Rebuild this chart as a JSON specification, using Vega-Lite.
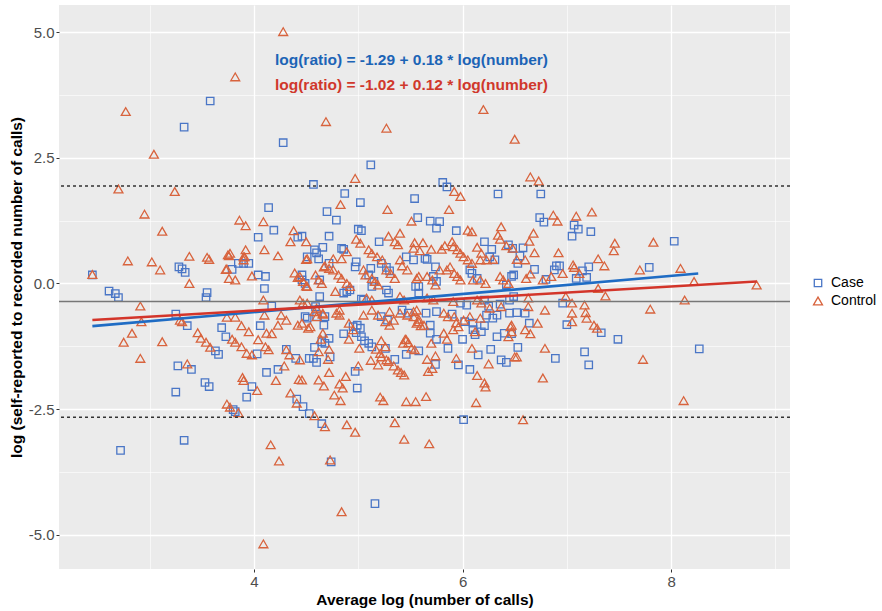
{
  "$schema": "https://vega.github.io/schema/vega-lite/v6.json",
  "width": 731,
  "height": 564,
  "autosize": {"type": "none"},
  "padding": {"left": 59, "top": 5, "right": 92, "bottom": 42},
  "background": "#ffffff",
  "config": {
    "font": "Liberation Sans",
    "view": {"fill": "#ebebeb", "stroke": null},
    "axis": {
      "domain": false,
      "gridColor": "#ffffff",
      "tickColor": "#333333",
      "tickSize": 3,
      "labelColor": "#4d4d4d",
      "labelFontSize": 15,
      "labelFont": "Liberation Sans",
      "titleFont": "Liberation Sans",
      "titleFontSize": 15.5,
      "titleFontWeight": "bold",
      "titleColor": "#000000",
      "labelFlush": false,
      "labelOverlap": false
    },
    "legend": {
      "orient": "none",
      "legendX": 752,
      "legendY": 271,
      "labelFontSize": 14,
      "labelColor": "#000000",
      "labelFont": "Liberation Sans",
      "symbolStrokeWidth": 1.3,
      "symbolSize": 60,
      "rowPadding": 4,
      "labelOffset": 6
    }
  },
  "layer": [
    {
      "data": {
        "values": [
          {"a":3.58,"d":3.63,"g":"Case"},{"a":3.33,"d":3.11,"g":"Case"},{"a":4.28,"d":2.80,"g":"Case"},{"a":4.14,"d":1.51,"g":"Case"},{"a":4.19,"d":1.06,"g":"Case"},{"a":4.04,"d":0.92,"g":"Case"},{"a":4.42,"d":0.92,"g":"Case"},{"a":3.28,"d":0.33,"g":"Case"},{"a":3.34,"d":0.22,"g":"Case"},{"a":3.31,"d":0.29,"g":"Case"},{"a":3.79,"d":0.28,"g":"Case"},{"a":3.85,"d":0.40,"g":"Case"},{"a":3.95,"d":0.40,"g":"Case"},{"a":3.90,"d":0.40,"g":"Case"},{"a":4.04,"d":0.17,"g":"Case"},{"a":4.11,"d":0.14,"g":"Case"},{"a":4.10,"d":-0.10,"g":"Case"},{"a":2.45,"d":0.17,"g":"Case"},{"a":2.61,"d":-0.15,"g":"Case"},{"a":2.67,"d":-0.20,"g":"Case"},{"a":2.70,"d":-0.28,"g":"Case"},{"a":3.55,"d":-0.18,"g":"Case"},{"a":3.54,"d":-0.28,"g":"Case"},
          {"a":5.12,"d":2.36,"g":"Case"},{"a":4.57,"d":1.97,"g":"Case"},{"a":4.87,"d":1.79,"g":"Case"},{"a":5.81,"d":2.01,"g":"Case"},{"a":5.85,"d":1.92,"g":"Case"},{"a":6.34,"d":1.78,"g":"Case"},{"a":6.75,"d":1.78,"g":"Case"},{"a":5.54,"d":1.69,"g":"Case"},
          {"a":6.74,"d":1.31,"g":"Case"},{"a":6.78,"d":1.22,"g":"Case"},{"a":7.07,"d":1.16,"g":"Case"},{"a":7.11,"d":1.08,"g":"Case"},{"a":7.05,"d":0.94,"g":"Case"},{"a":7.23,"d":1.03,"g":"Case"},{"a":8.03,"d":0.84,"g":"Case"},{"a":6.58,"d":0.71,"g":"Case"},{"a":6.55,"d":0.55,"g":"Case"},{"a":6.53,"d":0.40,"g":"Case"},{"a":7.21,"d":0.33,"g":"Case"},{"a":6.90,"d":0.35,"g":"Case"},{"a":6.93,"d":0.35,"g":"Case"},{"a":6.88,"d":0.27,"g":"Case"},{"a":7.15,"d":0.25,"g":"Case"},{"a":7.09,"d":0.10,"g":"Case"},{"a":7.19,"d":0.12,"g":"Case"},{"a":6.80,"d":0.08,"g":"Case"},{"a":6.69,"d":0.28,"g":"Case"},{"a":7.79,"d":0.32,"g":"Case"},{"a":6.96,"d":-0.39,"g":"Case"},{"a":6.52,"d":-0.58,"g":"Case"},{"a":6.60,"d":-0.59,"g":"Case"},{"a":6.49,"d":-0.26,"g":"Case"},
          {"a":8.27,"d":-1.30,"g":"Case"},
          {"a":7.00,"d":-0.82,"g":"Case"},{"a":7.33,"d":-0.98,"g":"Case"},{"a":7.49,"d":-1.11,"g":"Case"},{"a":7.17,"d":-1.36,"g":"Case"},{"a":7.21,"d":-1.62,"g":"Case"},{"a":6.89,"d":-1.49,"g":"Case"},{"a":6.53,"d":-1.27,"g":"Case"},{"a":6.64,"d":-0.79,"g":"Case"},
          {"a":3.25,"d":-0.61,"g":"Case"},{"a":3.36,"d":-0.84,"g":"Case"},{"a":3.63,"d":-1.34,"g":"Case"},{"a":3.66,"d":-1.41,"g":"Case"},{"a":3.27,"d":-1.64,"g":"Case"},{"a":3.40,"d":-1.71,"g":"Case"},{"a":3.53,"d":-1.97,"g":"Case"},{"a":3.57,"d":-2.05,"g":"Case"},{"a":3.25,"d":-2.16,"g":"Case"},{"a":3.69,"d":-0.88,"g":"Case"},{"a":3.73,"d":-1.06,"g":"Case"},{"a":4.06,"d":-0.84,"g":"Case"},{"a":4.03,"d":-1.40,"g":"Case"},{"a":4.31,"d":-1.31,"g":"Case"},{"a":4.40,"d":-1.49,"g":"Case"},{"a":4.51,"d":-0.69,"g":"Case"},{"a":4.53,"d":-1.49,"g":"Case"},{"a":4.23,"d":-1.71,"g":"Case"},{"a":4.12,"d":-1.77,"g":"Case"},{"a":3.98,"d":-2.05,"g":"Case"},{"a":3.93,"d":-2.26,"g":"Case"},{"a":4.41,"d":-2.30,"g":"Case"},{"a":4.47,"d":-2.45,"g":"Case"},{"a":4.53,"d":-2.59,"g":"Case"},{"a":3.80,"d":-2.51,"g":"Case"},{"a":3.82,"d":-2.55,"g":"Case"},{"a":2.72,"d":-3.32,"g":"Case"},{"a":3.33,"d":-3.12,"g":"Case"},{"a":4.17,"d":-0.45,"g":"Case"},
          {"a":4.74,"d":-3.55,"g":"Case"},{"a":4.65,"d":-2.79,"g":"Case"},{"a":6.01,"d":-2.71,"g":"Case"},{"a":5.16,"d":-4.38,"g":"Case"},
          {"a":4.99,"d":-2.08,"g":"Case"},{"a":4.97,"d":-1.75,"g":"Case"},{"a":5.35,"d":-1.51,"g":"Case"},{"a":5.26,"d":-1.29,"g":"Case"},{"a":5.10,"d":-1.19,"g":"Case"},{"a":5.13,"d":-1.26,"g":"Case"},{"a":5.06,"d":-1.14,"g":"Case"},{"a":5.03,"d":-1.06,"g":"Case"},{"a":4.98,"d":-0.98,"g":"Case"},{"a":4.95,"d":-0.86,"g":"Case"},{"a":4.99,"d":-0.83,"g":"Case"},{"a":5.02,"d":-0.89,"g":"Case"},{"a":4.86,"d":-1.00,"g":"Case"},{"a":4.72,"d":-1.09,"g":"Case"},{"a":4.68,"d":-1.19,"g":"Case"},{"a":4.65,"d":-1.16,"g":"Case"},{"a":4.58,"d":-1.27,"g":"Case"},{"a":4.57,"d":-1.49,"g":"Case"},{"a":4.60,"d":-1.57,"g":"Case"},{"a":4.73,"d":-1.46,"g":"Case"},{"a":4.60,"d":-0.66,"g":"Case"},{"a":4.67,"d":-0.83,"g":"Case"},{"a":5.46,"d":-1.41,"g":"Case"},{"a":5.58,"d":-1.34,"g":"Case"},{"a":5.74,"d":-1.61,"g":"Case"},{"a":5.69,"d":-0.99,"g":"Case"},{"a":5.75,"d":-1.11,"g":"Case"},{"a":5.69,"d":-0.83,"g":"Case"},{"a":5.86,"d":-1.29,"g":"Case"},{"a":6.00,"d":-1.11,"g":"Case"},{"a":5.96,"d":-1.62,"g":"Case"},{"a":6.07,"d":-1.71,"g":"Case"},{"a":6.15,"d":-1.42,"g":"Case"},{"a":6.27,"d":-1.31,"g":"Case"},{"a":6.37,"d":-1.52,"g":"Case"},{"a":6.42,"d":-1.57,"g":"Case"},{"a":6.33,"d":-1.06,"g":"Case"},{"a":6.40,"d":-0.99,"g":"Case"},{"a":6.47,"d":-1.00,"g":"Case"},{"a":6.21,"d":-0.84,"g":"Case"},{"a":6.29,"d":-0.69,"g":"Case"},{"a":6.23,"d":-0.63,"g":"Case"},{"a":6.10,"d":-0.79,"g":"Case"},{"a":6.12,"d":-1.02,"g":"Case"},{"a":5.90,"d":-0.61,"g":"Case"},{"a":6.02,"d":-0.76,"g":"Case"},{"a":5.42,"d":-0.53,"g":"Case"},{"a":5.48,"d":-0.59,"g":"Case"},{"a":5.65,"d":-0.59,"g":"Case"},{"a":5.75,"d":-0.56,"g":"Case"},{"a":5.22,"d":-0.66,"g":"Case"},{"a":5.28,"d":-0.73,"g":"Case"},{"a":6.10,"d":-0.92,"g":"Case"},{"a":6.18,"d":-0.96,"g":"Case"},
          {"a":4.46,"d":0.07,"g":"Case"},{"a":4.49,"d":0.00,"g":"Case"},
          {"a":5.02,"d":1.61,"g":"Case"},{"a":4.70,"d":1.43,"g":"Case"},{"a":4.79,"d":1.26,"g":"Case"},{"a":5.57,"d":1.31,"g":"Case"},{"a":5.69,"d":1.24,"g":"Case"},{"a":5.75,"d":1.10,"g":"Case"},{"a":5.78,"d":1.23,"g":"Case"},{"a":5.94,"d":1.05,"g":"Case"},{"a":5.00,"d":1.08,"g":"Case"},{"a":5.03,"d":1.05,"g":"Case"},{"a":4.46,"d":0.94,"g":"Case"},{"a":4.72,"d":0.94,"g":"Case"},{"a":5.20,"d":0.83,"g":"Case"},{"a":4.58,"d":0.67,"g":"Case"},{"a":4.66,"d":0.72,"g":"Case"},{"a":4.60,"d":0.61,"g":"Case"},{"a":4.84,"d":0.70,"g":"Case"},{"a":4.86,"d":0.68,"g":"Case"},{"a":6.21,"d":0.83,"g":"Case"},{"a":6.28,"d":0.68,"g":"Case"},{"a":6.44,"d":0.77,"g":"Case"},{"a":6.48,"d":0.70,"g":"Case"},{"a":6.31,"d":0.47,"g":"Case"},{"a":6.26,"d":0.53,"g":"Case"},{"a":4.51,"d":0.53,"g":"Case"},{"a":4.62,"d":0.49,"g":"Case"},{"a":4.72,"d":0.40,"g":"Case"},{"a":4.98,"d":0.43,"g":"Case"},{"a":4.97,"d":0.33,"g":"Case"},{"a":5.12,"d":0.30,"g":"Case"},{"a":5.10,"d":0.17,"g":"Case"},{"a":5.15,"d":0.04,"g":"Case"},{"a":5.22,"d":0.40,"g":"Case"},{"a":5.27,"d":0.32,"g":"Case"},{"a":5.30,"d":0.25,"g":"Case"},{"a":5.46,"d":0.53,"g":"Case"},{"a":5.53,"d":0.47,"g":"Case"},{"a":5.64,"d":0.50,"g":"Case"},{"a":5.66,"d":0.48,"g":"Case"},{"a":5.74,"d":0.33,"g":"Case"},{"a":5.58,"d":-0.06,"g":"Case"},{"a":5.55,"d":-0.06,"g":"Case"},{"a":5.72,"d":0.14,"g":"Case"},{"a":5.75,"d":0.04,"g":"Case"},{"a":6.07,"d":0.27,"g":"Case"},{"a":6.09,"d":0.20,"g":"Case"},{"a":6.14,"d":0.10,"g":"Case"},{"a":6.47,"d":0.14,"g":"Case"},{"a":6.49,"d":0.17,"g":"Case"},{"a":6.42,"d":-0.03,"g":"Case"},{"a":4.63,"d":0.07,"g":"Case"},{"a":4.63,"d":-0.26,"g":"Case"},{"a":4.89,"d":-0.16,"g":"Case"},{"a":5.13,"d":-0.06,"g":"Case"},{"a":5.27,"d":-0.13,"g":"Case"},{"a":5.29,"d":-0.19,"g":"Case"},{"a":5.58,"d":-0.19,"g":"Case"},{"a":5.03,"d":-0.31,"g":"Case"},{"a":5.05,"d":-0.33,"g":"Case"},{"a":5.98,"d":-0.39,"g":"Case"},{"a":6.04,"d":-0.43,"g":"Case"},{"a":6.21,"d":-0.33,"g":"Case"},{"a":6.25,"d":-0.45,"g":"Case"},{"a":6.36,"d":-0.41,"g":"Case"},{"a":6.45,"d":-0.33,"g":"Case"},{"a":4.49,"d":-0.66,"g":"Case"},{"a":4.59,"d":-0.46,"g":"Case"},{"a":4.68,"d":-0.66,"g":"Case"},{"a":6.33,"d":-0.63,"g":"Case"},{"a":6.45,"d":-0.59,"g":"Case"},{"a":4.86,"d":-0.19,"g":"Case"},{"a":4.92,"d":-0.13,"g":"Case"},{"a":4.46,"d":0.17,"g":"Case"},

          {"a":4.28,"d":5.01,"g":"Control"},{"a":3.82,"d":4.11,"g":"Control"},{"a":2.77,"d":3.42,"g":"Control"},{"a":3.04,"d":2.57,"g":"Control"},{"a":2.70,"d":1.88,"g":"Control"},{"a":3.24,"d":1.83,"g":"Control"},{"a":2.95,"d":1.38,"g":"Control"},{"a":3.86,"d":1.26,"g":"Control"},{"a":4.09,"d":1.23,"g":"Control"},{"a":3.92,"d":1.15,"g":"Control"},{"a":3.12,"d":1.04,"g":"Control"},{"a":4.38,"d":1.05,"g":"Control"},{"a":4.35,"d":0.83,"g":"Control"},{"a":3.92,"d":0.67,"g":"Control"},{"a":4.10,"d":0.67,"g":"Control"},{"a":2.79,"d":0.45,"g":"Control"},{"a":3.02,"d":0.43,"g":"Control"},{"a":3.38,"d":0.54,"g":"Control"},{"a":3.55,"d":0.52,"g":"Control"},{"a":3.57,"d":0.48,"g":"Control"},{"a":3.76,"d":0.55,"g":"Control"},{"a":3.91,"d":0.53,"g":"Control"},{"a":4.23,"d":0.55,"g":"Control"},{"a":3.10,"d":0.27,"g":"Control"},{"a":3.74,"d":0.29,"g":"Control"},{"a":3.76,"d":0.10,"g":"Control"},{"a":3.82,"d":0.07,"g":"Control"},{"a":3.98,"d":0.15,"g":"Control"},{"a":3.38,"d":0.00,"g":"Control"},{"a":2.45,"d":0.18,"g":"Control"},{"a":4.39,"d":0.21,"g":"Control"},
          {"a":4.69,"d":3.22,"g":"Control"},{"a":5.27,"d":3.09,"g":"Control"},{"a":6.20,"d":3.46,"g":"Control"},{"a":6.50,"d":2.87,"g":"Control"},{"a":4.97,"d":2.09,"g":"Control"},{"a":5.92,"d":1.83,"g":"Control"},{"a":5.98,"d":1.73,"g":"Control"},{"a":6.65,"d":2.12,"g":"Control"},{"a":6.73,"d":2.04,"g":"Control"},
          {"a":6.87,"d":1.36,"g":"Control"},{"a":6.91,"d":1.24,"g":"Control"},{"a":7.09,"d":1.34,"g":"Control"},{"a":7.24,"d":1.42,"g":"Control"},{"a":7.46,"d":0.80,"g":"Control"},{"a":7.45,"d":0.65,"g":"Control"},{"a":7.83,"d":0.82,"g":"Control"},{"a":6.68,"d":1.00,"g":"Control"},{"a":6.64,"d":0.84,"g":"Control"},{"a":6.48,"d":0.70,"g":"Control"},{"a":6.69,"d":0.61,"g":"Control"},{"a":6.92,"d":0.61,"g":"Control"},{"a":6.52,"d":0.48,"g":"Control"},{"a":6.60,"d":0.47,"g":"Control"},{"a":7.30,"d":0.49,"g":"Control"},{"a":7.36,"d":0.35,"g":"Control"},{"a":7.06,"d":0.37,"g":"Control"},{"a":7.07,"d":0.32,"g":"Control"},{"a":6.96,"d":0.20,"g":"Control"},{"a":7.12,"d":0.20,"g":"Control"},{"a":6.85,"d":0.14,"g":"Control"},{"a":6.65,"d":0.19,"g":"Control"},{"a":6.61,"d":0.10,"g":"Control"},{"a":6.77,"d":0.07,"g":"Control"},{"a":7.70,"d":0.27,"g":"Control"},{"a":8.09,"d":0.30,"g":"Control"},{"a":8.22,"d":0.04,"g":"Control"},{"a":7.30,"d":-0.10,"g":"Control"},{"a":7.37,"d":-0.25,"g":"Control"},{"a":7.05,"d":-0.39,"g":"Control"},{"a":7.17,"d":-0.43,"g":"Control"},{"a":7.80,"d":-0.51,"g":"Control"},{"a":8.13,"d":-0.33,"g":"Control"},{"a":6.99,"d":-0.26,"g":"Control"},{"a":7.05,"d":-0.59,"g":"Control"},{"a":7.18,"d":-0.58,"g":"Control"},{"a":6.63,"d":-0.46,"g":"Control"},{"a":6.63,"d":-0.29,"g":"Control"},
          {"a":8.82,"d":-0.03,"g":"Control"},
          {"a":6.79,"d":-0.53,"g":"Control"},{"a":7.05,"d":-0.76,"g":"Control"},{"a":7.19,"d":-0.69,"g":"Control"},{"a":7.26,"d":-0.83,"g":"Control"},{"a":7.29,"d":-0.89,"g":"Control"},{"a":7.73,"d":-1.51,"g":"Control"},{"a":6.79,"d":-1.29,"g":"Control"},{"a":6.77,"d":-1.88,"g":"Control"},{"a":8.12,"d":-2.33,"g":"Control"},{"a":6.58,"d":-2.71,"g":"Control"},{"a":6.52,"d":-1.46,"g":"Control"},{"a":6.72,"d":-0.79,"g":"Control"},{"a":6.60,"d":-0.92,"g":"Control"},{"a":6.65,"d":-1.00,"g":"Control"},{"a":6.47,"d":-0.96,"g":"Control"},{"a":6.47,"d":-0.83,"g":"Control"},
          {"a":2.83,"d":-0.99,"g":"Control"},{"a":2.75,"d":-1.17,"g":"Control"},{"a":3.12,"d":-1.16,"g":"Control"},{"a":2.91,"d":-1.49,"g":"Control"},{"a":3.31,"d":-0.76,"g":"Control"},{"a":2.92,"d":-0.76,"g":"Control"},{"a":3.46,"d":-0.98,"g":"Control"},{"a":3.49,"d":-1.09,"g":"Control"},{"a":3.54,"d":-1.17,"g":"Control"},{"a":3.58,"d":-1.27,"g":"Control"},{"a":3.36,"d":-1.60,"g":"Control"},{"a":3.74,"d":-0.67,"g":"Control"},{"a":3.82,"d":-0.67,"g":"Control"},{"a":3.88,"d":-0.84,"g":"Control"},{"a":3.79,"d":-1.11,"g":"Control"},{"a":3.82,"d":-1.17,"g":"Control"},{"a":3.88,"d":-1.26,"g":"Control"},{"a":3.95,"d":-0.96,"g":"Control"},{"a":4.04,"d":-1.12,"g":"Control"},{"a":4.10,"d":-0.63,"g":"Control"},{"a":3.93,"d":-1.39,"g":"Control"},{"a":3.98,"d":-1.42,"g":"Control"},{"a":4.11,"d":-1.26,"g":"Control"},{"a":4.14,"d":-1.32,"g":"Control"},{"a":4.12,"d":-0.99,"g":"Control"},{"a":4.17,"d":-1.00,"g":"Control"},{"a":4.23,"d":-0.83,"g":"Control"},{"a":4.26,"d":-0.63,"g":"Control"},{"a":4.31,"d":-0.73,"g":"Control"},{"a":4.31,"d":-1.32,"g":"Control"},{"a":4.34,"d":-1.42,"g":"Control"},{"a":4.46,"d":-0.79,"g":"Control"},{"a":4.52,"d":-0.89,"g":"Control"},{"a":4.29,"d":-1.64,"g":"Control"},{"a":4.21,"d":-1.93,"g":"Control"},{"a":4.43,"d":-1.91,"g":"Control"},{"a":3.89,"d":-1.87,"g":"Control"},{"a":3.90,"d":-1.93,"g":"Control"},{"a":4.03,"d":-2.13,"g":"Control"},{"a":4.35,"d":-2.18,"g":"Control"},{"a":4.41,"d":-2.38,"g":"Control"},{"a":3.74,"d":-2.40,"g":"Control"},{"a":3.77,"d":-2.46,"g":"Control"},{"a":3.85,"d":-2.57,"g":"Control"},{"a":4.16,"d":-3.21,"g":"Control"},{"a":4.24,"d":-3.53,"g":"Control"},
          {"a":2.91,"d":-0.45,"g":"Control"},{"a":3.29,"d":-0.73,"g":"Control"},{"a":4.42,"d":-0.83,"g":"Control"},{"a":4.09,"d":-0.33,"g":"Control"},{"a":4.09,"d":-5.18,"g":"Control"},
          {"a":4.68,"d":-2.85,"g":"Control"},{"a":4.89,"d":-2.81,"g":"Control"},{"a":4.97,"d":-2.96,"g":"Control"},{"a":5.35,"d":-2.77,"g":"Control"},{"a":5.44,"d":-3.10,"g":"Control"},{"a":5.68,"d":-3.19,"g":"Control"},{"a":4.73,"d":-3.51,"g":"Control"},{"a":4.84,"d":-4.54,"g":"Control"},
          {"a":4.58,"d":-2.63,"g":"Control"},{"a":5.21,"d":-2.26,"g":"Control"},{"a":5.24,"d":-2.33,"g":"Control"},{"a":5.46,"d":-2.35,"g":"Control"},{"a":5.55,"d":-2.35,"g":"Control"},{"a":5.65,"d":-2.25,"g":"Control"},{"a":6.13,"d":-2.37,"g":"Control"},{"a":4.77,"d":-2.22,"g":"Control"},{"a":4.83,"d":-2.33,"g":"Control"},{"a":4.88,"d":-1.85,"g":"Control"},{"a":4.82,"d":-2.00,"g":"Control"},{"a":4.85,"d":-2.08,"g":"Control"},{"a":4.62,"d":-1.92,"g":"Control"},{"a":4.67,"d":-2.04,"g":"Control"},{"a":4.72,"d":-1.77,"g":"Control"},{"a":4.46,"d":-1.92,"g":"Control"},{"a":5.00,"d":-1.64,"g":"Control"},{"a":5.12,"d":-1.53,"g":"Control"},{"a":5.19,"d":-1.62,"g":"Control"},{"a":5.34,"d":-1.64,"g":"Control"},{"a":5.38,"d":-1.72,"g":"Control"},{"a":5.41,"d":-1.77,"g":"Control"},{"a":5.44,"d":-1.82,"g":"Control"},{"a":5.22,"d":-1.46,"g":"Control"},{"a":5.27,"d":-1.52,"g":"Control"},{"a":5.29,"d":-1.55,"g":"Control"},{"a":5.22,"d":-1.14,"g":"Control"},{"a":5.26,"d":-1.26,"g":"Control"},{"a":5.17,"d":-1.31,"g":"Control"},{"a":5.21,"d":-1.39,"g":"Control"},{"a":4.91,"d":-0.79,"g":"Control"},{"a":4.95,"d":-0.92,"g":"Control"},{"a":4.91,"d":-1.11,"g":"Control"},{"a":5.01,"d":-1.29,"g":"Control"},{"a":4.72,"d":-1.31,"g":"Control"},{"a":4.66,"d":-0.99,"g":"Control"},{"a":4.64,"d":-1.11,"g":"Control"},{"a":4.71,"d":-1.51,"g":"Control"},{"a":4.62,"d":-1.36,"g":"Control"},{"a":4.54,"d":-0.86,"g":"Control"},{"a":4.44,"d":-1.52,"g":"Control"},{"a":5.43,"d":-1.19,"g":"Control"},{"a":5.46,"d":-1.12,"g":"Control"},{"a":5.51,"d":-1.29,"g":"Control"},{"a":5.54,"d":-1.32,"g":"Control"},{"a":5.66,"d":-1.51,"g":"Control"},{"a":5.74,"d":-1.44,"g":"Control"},{"a":5.67,"d":-1.75,"g":"Control"},{"a":5.71,"d":-1.69,"g":"Control"},{"a":5.70,"d":-1.19,"g":"Control"},{"a":5.58,"d":-0.71,"g":"Control"},{"a":5.63,"d":-0.83,"g":"Control"},{"a":5.82,"d":-0.99,"g":"Control"},{"a":5.85,"d":-1.11,"g":"Control"},{"a":5.91,"d":-0.92,"g":"Control"},{"a":5.94,"d":-0.78,"g":"Control"},{"a":5.94,"d":-1.49,"g":"Control"},{"a":6.14,"d":-1.83,"g":"Control"},{"a":6.21,"d":-1.98,"g":"Control"},{"a":6.22,"d":-2.06,"g":"Control"},{"a":6.09,"d":-1.29,"g":"Control"},{"a":6.25,"d":-1.60,"g":"Control"},{"a":6.50,"d":-1.46,"g":"Control"},{"a":6.44,"d":-1.06,"g":"Control"},{"a":6.46,"d":-0.86,"g":"Control"},{"a":6.12,"d":-0.96,"g":"Control"},{"a":5.92,"d":-0.66,"g":"Control"},{"a":5.96,"d":-0.86,"g":"Control"},{"a":6.01,"d":-0.73,"g":"Control"},{"a":6.07,"d":-0.66,"g":"Control"},{"a":6.17,"d":-0.69,"g":"Control"},{"a":5.56,"d":-0.79,"g":"Control"},{"a":5.60,"d":-0.84,"g":"Control"},{"a":5.45,"d":-1.11,"g":"Control"},{"a":5.48,"d":-1.18,"g":"Control"},{"a":5.53,"d":-0.56,"g":"Control"},{"a":5.58,"d":-0.76,"g":"Control"},{"a":5.30,"d":-0.56,"g":"Control"},{"a":5.34,"d":-0.73,"g":"Control"},{"a":5.19,"d":-0.63,"g":"Control"},{"a":5.26,"d":-0.76,"g":"Control"},{"a":5.30,"d":-0.83,"g":"Control"},{"a":5.13,"d":-0.53,"g":"Control"},{"a":5.05,"d":-0.63,"g":"Control"},{"a":4.79,"d":-0.59,"g":"Control"},{"a":4.82,"d":-0.63,"g":"Control"},{"a":4.60,"d":-0.66,"g":"Control"},{"a":4.66,"d":-0.59,"g":"Control"},{"a":4.58,"d":-0.56,"g":"Control"},
          {"a":4.50,"d":0.83,"g":"Control"},{"a":3.75,"d":0.57,"g":"Control"},{"a":3.77,"d":0.60,"g":"Control"},{"a":3.90,"d":0.53,"g":"Control"},{"a":4.50,"d":0.48,"g":"Control"},{"a":3.73,"d":0.28,"g":"Control"},{"a":3.90,"d":0.47,"g":"Control"},{"a":4.42,"d":0.12,"g":"Control"},{"a":4.50,"d":-0.05,"g":"Control"},{"a":4.47,"d":-0.39,"g":"Control"},
          {"a":4.83,"d":1.57,"g":"Control"},{"a":5.28,"d":1.47,"g":"Control"},{"a":5.87,"d":1.47,"g":"Control"},{"a":5.51,"d":1.24,"g":"Control"},{"a":6.05,"d":1.06,"g":"Control"},{"a":6.09,"d":1.03,"g":"Control"},{"a":6.37,"d":1.13,"g":"Control"},{"a":6.34,"d":0.96,"g":"Control"},{"a":6.36,"d":0.88,"g":"Control"},{"a":4.98,"d":0.88,"g":"Control"},{"a":5.02,"d":0.80,"g":"Control"},{"a":5.29,"d":0.94,"g":"Control"},{"a":5.40,"d":1.00,"g":"Control"},{"a":5.35,"d":0.83,"g":"Control"},{"a":5.38,"d":0.77,"g":"Control"},{"a":4.89,"d":0.63,"g":"Control"},{"a":5.10,"d":0.67,"g":"Control"},{"a":5.13,"d":0.60,"g":"Control"},{"a":5.18,"d":0.53,"g":"Control"},{"a":5.23,"d":0.47,"g":"Control"},{"a":5.54,"d":0.81,"g":"Control"},{"a":5.62,"d":0.81,"g":"Control"},{"a":5.70,"d":0.68,"g":"Control"},{"a":5.53,"d":0.70,"g":"Control"},{"a":5.59,"d":0.65,"g":"Control"},{"a":5.80,"d":0.68,"g":"Control"},{"a":5.83,"d":0.75,"g":"Control"},{"a":5.90,"d":0.83,"g":"Control"},{"a":5.91,"d":0.73,"g":"Control"},{"a":5.95,"d":0.67,"g":"Control"},{"a":5.98,"d":0.60,"g":"Control"},{"a":6.01,"d":0.53,"g":"Control"},{"a":6.05,"d":0.47,"g":"Control"},{"a":6.09,"d":0.40,"g":"Control"},{"a":6.14,"d":0.72,"g":"Control"},{"a":6.18,"d":0.60,"g":"Control"},{"a":6.23,"d":0.47,"g":"Control"},{"a":6.42,"d":0.75,"g":"Control"},{"a":6.17,"d":0.47,"g":"Control"},{"a":6.29,"d":0.48,"g":"Control"},{"a":4.51,"d":0.49,"g":"Control"},{"a":4.76,"d":0.49,"g":"Control"},{"a":4.84,"d":0.49,"g":"Control"},{"a":4.68,"d":0.35,"g":"Control"},{"a":4.72,"d":0.30,"g":"Control"},{"a":4.76,"d":0.27,"g":"Control"},{"a":4.81,"d":0.17,"g":"Control"},{"a":4.84,"d":0.10,"g":"Control"},{"a":4.89,"d":0.00,"g":"Control"},{"a":4.92,"d":-0.06,"g":"Control"},{"a":5.05,"d":0.27,"g":"Control"},{"a":5.07,"d":0.17,"g":"Control"},{"a":5.13,"d":0.10,"g":"Control"},{"a":5.16,"d":0.04,"g":"Control"},{"a":5.19,"d":-0.03,"g":"Control"},{"a":5.27,"d":0.27,"g":"Control"},{"a":5.31,"d":0.20,"g":"Control"},{"a":5.35,"d":0.10,"g":"Control"},{"a":5.40,"d":0.47,"g":"Control"},{"a":5.42,"d":0.35,"g":"Control"},{"a":5.47,"d":0.27,"g":"Control"},{"a":5.58,"d":0.14,"g":"Control"},{"a":5.56,"d":0.10,"g":"Control"},{"a":5.66,"d":0.14,"g":"Control"},{"a":5.71,"d":0.07,"g":"Control"},{"a":5.74,"d":-0.03,"g":"Control"},{"a":5.78,"d":0.27,"g":"Control"},{"a":5.85,"d":0.27,"g":"Control"},{"a":5.88,"d":0.33,"g":"Control"},{"a":5.92,"d":0.20,"g":"Control"},{"a":5.95,"d":0.14,"g":"Control"},{"a":5.98,"d":0.07,"g":"Control"},{"a":6.10,"d":0.07,"g":"Control"},{"a":6.17,"d":0.07,"g":"Control"},{"a":6.22,"d":0.00,"g":"Control"},{"a":6.36,"d":0.14,"g":"Control"},{"a":6.39,"d":0.07,"g":"Control"},{"a":6.44,"d":0.00,"g":"Control"},{"a":4.44,"d":0.14,"g":"Control"},{"a":4.47,"d":0.04,"g":"Control"},{"a":4.51,"d":-0.06,"g":"Control"},{"a":4.78,"d":-0.16,"g":"Control"},{"a":5.08,"d":-0.29,"g":"Control"},{"a":5.13,"d":-0.33,"g":"Control"},{"a":5.40,"d":-0.26,"g":"Control"},{"a":5.44,"d":-0.33,"g":"Control"},{"a":5.66,"d":-0.29,"g":"Control"},{"a":5.72,"d":-0.33,"g":"Control"},{"a":5.91,"d":-0.36,"g":"Control"},{"a":6.14,"d":-0.33,"g":"Control"},{"a":6.18,"d":-0.39,"g":"Control"},{"a":6.26,"d":-0.49,"g":"Control"},{"a":6.37,"d":-0.46,"g":"Control"},{"a":5.40,"d":-0.59,"g":"Control"},{"a":5.47,"d":-0.63,"g":"Control"},{"a":5.53,"d":-0.66,"g":"Control"},{"a":5.56,"d":-0.53,"g":"Control"},{"a":4.44,"d":-0.33,"g":"Control"},{"a":4.51,"d":-0.39,"g":"Control"},{"a":4.60,"d":-0.49,"g":"Control"},{"a":4.66,"d":-0.61,"g":"Control"},{"a":4.82,"d":-0.53,"g":"Control"},{"a":5.82,"d":-0.59,"g":"Control"},{"a":5.86,"d":-0.66,"g":"Control"},{"a":4.67,"d":0.33,"g":"Control"},{"a":4.59,"d":0.17,"g":"Control"},{"a":4.62,"d":0.07,"g":"Control"},{"a":4.65,"d":0.00,"g":"Control"}
        ]
      },
      "mark": {"type": "point", "filled": false, "strokeWidth": 1.3, "opacity": 1},
      "encoding": {
        "x": {
          "field": "a", "type": "quantitative",
          "title": "Average log (number of calls)",
          "scale": {"domain": [2.13, 9.14], "nice": false, "zero": false},
          "axis": {
            "values": [3, 4, 5, 6, 7, 8, 9],
            "labelExpr": "datum.value % 2 == 0 ? format(datum.value, 'd') : ''",
            "grid": true,
            "gridWidth": {"condition": {"test": "datum.value % 2 != 0", "value": 0.6}, "value": 1.3},
            "tickOpacity": {"condition": {"test": "datum.value % 2 != 0", "value": 0}, "value": 1},
            "labelPadding": 2,
            "titlePadding": 3
          }
        },
        "y": {
          "field": "d", "type": "quantitative",
          "title": "log (self-reported to recorded number of calls)",
          "scale": {"domain": [-5.68, 5.54], "nice": false, "zero": false},
          "axis": {
            "values": [-5, -3.75, -2.5, -1.25, 0, 1.25, 2.5, 3.75, 5],
            "labelExpr": "abs(datum.value % 2.5) < 0.001 ? (datum.value < 0 ? '-' : '') + format(abs(datum.value), '.1f') : ''",
            "grid": true,
            "gridWidth": {"condition": {"test": "abs(datum.value % 2.5) > 0.001", "value": 0.6}, "value": 1.3},
            "tickOpacity": {"condition": {"test": "abs(datum.value % 2.5) > 0.001", "value": 0}, "value": 1},
            "labelPadding": 2,
            "titlePadding": 4
          }
        },
        "color": {
          "field": "g", "type": "nominal",
          "scale": {"domain": ["Case", "Control"], "range": ["#4a76c6", "#d8633d"]},
          "legend": {"title": null}
        },
        "shape": {
          "field": "g", "type": "nominal",
          "scale": {"domain": ["Case", "Control"], "range": ["square", "triangle-up"]},
          "legend": {"title": null}
        },
        "size": {
          "field": "g", "type": "nominal",
          "scale": {"domain": ["Case", "Control"], "range": [55, 80]},
          "legend": null
        }
      }
    },
    {
      "data": {"values": [{"h": -0.36}]},
      "mark": {"type": "rule", "color": "#777777", "strokeWidth": 1.5},
      "encoding": {
        "y": {"field": "h", "type": "quantitative", "title": "log (self-reported to recorded number of calls)"}
      }
    },
    {
      "data": {"values": [{"h": 1.94}, {"h": -2.66}]},
      "mark": {"type": "rule", "color": "#333333", "strokeWidth": 1.5, "strokeDash": [3, 3]},
      "encoding": {
        "y": {"field": "h", "type": "quantitative", "title": "log (self-reported to recorded number of calls)"}
      }
    },
    {
      "data": {"values": [{"a": 2.45, "d": -0.849}, {"a": 8.26, "d": 0.197}]},
      "mark": {"type": "line", "strokeWidth": 2.6, "color": "#1f6cc4"},
      "encoding": {
        "x": {"field": "a", "type": "quantitative", "title": "Average log (number of calls)"},
        "y": {"field": "d", "type": "quantitative", "title": "log (self-reported to recorded number of calls)"}
      }
    },
    {
      "data": {"values": [{"a": 2.45, "d": -0.726}, {"a": 8.82, "d": 0.038}]},
      "mark": {"type": "line", "strokeWidth": 2.6, "color": "#d3352a"},
      "encoding": {
        "x": {"field": "a", "type": "quantitative", "title": "Average log (number of calls)"},
        "y": {"field": "d", "type": "quantitative", "title": "log (self-reported to recorded number of calls)"}
      }
    },
    {
      "data": {"values": [{"a": 5.51, "d": 4.44, "t": "log(ratio) = -1.29 + 0.18 * log(number)"}]},
      "mark": {"type": "text", "fontWeight": "bold", "fontSize": 15.5, "align": "center", "baseline": "middle", "color": "#1c64b6"},
      "encoding": {
        "x": {"field": "a", "type": "quantitative", "title": "Average log (number of calls)"},
        "y": {"field": "d", "type": "quantitative", "title": "log (self-reported to recorded number of calls)"},
        "text": {"field": "t"}
      }
    },
    {
      "data": {"values": [{"a": 5.51, "d": 3.95, "t": "log(ratio) = -1.02 + 0.12 * log(number)"}]},
      "mark": {"type": "text", "fontWeight": "bold", "fontSize": 15.5, "align": "center", "baseline": "middle", "color": "#d0382c"},
      "encoding": {
        "x": {"field": "a", "type": "quantitative", "title": "Average log (number of calls)"},
        "y": {"field": "d", "type": "quantitative", "title": "log (self-reported to recorded number of calls)"},
        "text": {"field": "t"}
      }
    }
  ]
}
